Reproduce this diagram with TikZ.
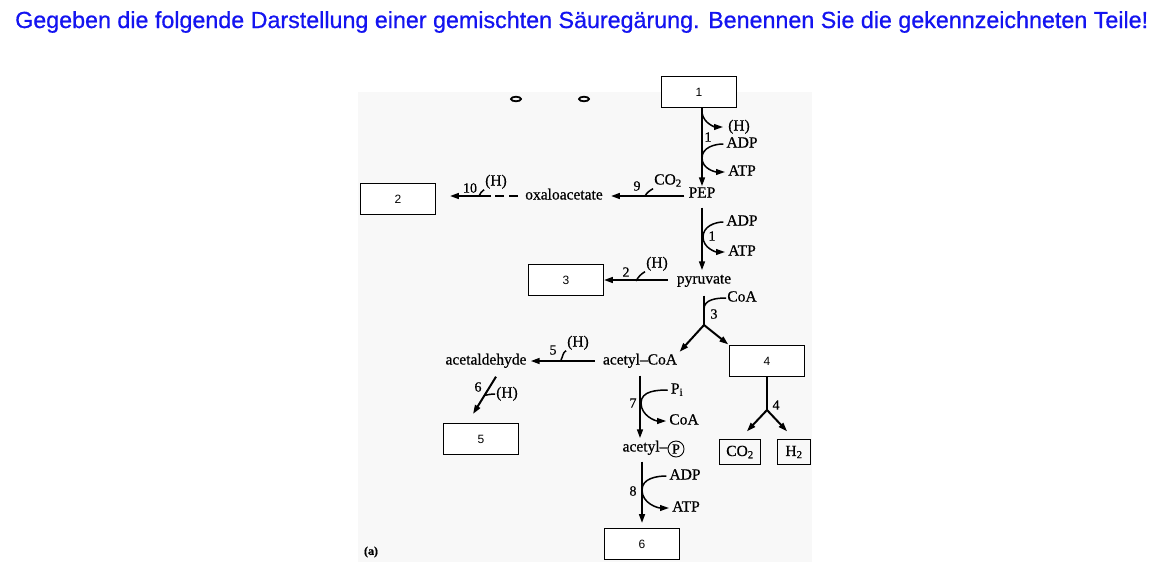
\documentclass[tikz,border=0pt]{standalone}
\usepackage{fontspec}
\setmainfont{Liberation Serif}[FakeBold=0.6]
\newfontfamily\boxfont{Liberation Sans}
\newfontfamily\taskfont{Liberation Sans}[FakeBold=0.7]
\usepackage{graphicx}
\usetikzlibrary{arrows.meta,positioning,calc}
\definecolor{taskblue}{HTML}{1414F0}
\definecolor{scan}{HTML}{F8F8F8}
\tikzset{thick/.style={line width=1.5pt},
  very thick/.style={line width=2pt}}

\begin{document}
\begin{tikzpicture}[x=1pt,y=-1pt,>={Triangle[length=9pt,width=5.8pt]},
  every node/.style={font=\fontsize{15.5}{17}\selectfont,inner sep=1pt},
  mol/.style={text height=10pt,text depth=3pt},
  blank/.style={draw,line width=0.8pt,fill=white,minimum width=75pt,
    minimum height=31pt,font=\boxfont\fontsize{12}{14}\selectfont},
  prod/.style={draw,line width=1.7pt,minimum height=25pt,inner sep=2pt},
  num/.style={font=\fontsize{14}{16}\selectfont},
  ed/.style={very thick},
  sd/.style={thick}]
\useasboundingbox (0,0) rectangle (1166,584);
\fill[scan] (358,92) rectangle (812,562);
\node[anchor=west,text=taskblue,inner sep=0pt] (task) at (15,22)
  {\resizebox{1133pt}{!}{\taskfont Gegeben die folgende Darstellung einer gemischten Säuregärung. Benennen Sie die gekennzeichneten Teile!}};
% the blanks to fill in
\node[blank] (b1) at (699,92) {1};
\node[blank] (b2) at (398,199) {2};
\node[blank] (b3) at (566,280) {3};
\node[blank] (b4) at (767,361) {4};
\node[blank] (b5) at (481,439) {5};
\node[blank] (b6) at (642,544) {6};
% metabolites
\node[mol] (pep) at (702,194) {PEP};
\node[mol] (oxa) at (564,196) {oxaloacetate};
\node[mol] (pyr) at (704,280) {pyruvate};
\node[mol] (acoa) at (640,361) {acetyl--CoA};
\node[mol] (ald) at (486,361) {acetaldehyde};
\node[mol] (ap) at (645,448) {acetyl--};
\node[circle,draw,line width=0.9pt,inner sep=0pt,minimum size=16pt,
  font=\fontsize{14}{15}\selectfont,right=-1pt of ap,yshift=-1pt] (apc) {P};
\node[prod,minimum width=41pt] (co2) at (740,452) {CO\textsubscript{2}};
\node[prod,minimum width=33pt] (h2) at (794,452) {H\textsubscript{2}};
% main arrows
\coordinate (f3) at (704,325);
\coordinate (f4) at (767,410);
\draw[ed,->] (b1.south -| pep.north) -- (pep.north);
\draw[ed,->,shorten <=6pt,shorten >=2pt] (pep.south) -- (pyr.north -| pep.south);
\draw[ed,shorten <=8pt] (pyr.south -| f3) -- (f3);
\draw[ed,->,shorten >=2pt] (f3) -- (acoa.north east);
\draw[ed,->,shorten >=1pt] (f3) -- (b4.north west);
\draw[ed,->,shorten <=7pt,shorten >=2pt] (acoa.south) -- (ap.north -| acoa.south);
\draw[ed,->,shorten <=6pt,shorten >=5pt] (ap.south -| b6.north) -- (b6.north);
\draw[ed] (b4.south) -- (f4);
\draw[ed,->,shorten >=10pt] (f4) -- (co2.north);
\draw[ed,->,shorten >=10pt] (f4) -- (h2.north);
\draw[ed,->,shorten <=3pt,shorten >=7pt] (pep.west |- oxa.east) -- (oxa.east);
\coordinate (d10) at (491,196);
\draw[ed,dash pattern=on 9pt off 5pt,shorten <=6pt] (oxa.west) -- (d10);
\draw[ed,->,shorten >=14pt] (d10) -- (b2.east |- d10);
\draw[ed,->,shorten <=8pt] (pyr.west) -- (b3.east);
\draw[ed,->,shorten <=7pt,shorten >=3pt] (acoa.west) -- (ald.east);
\coordinate (a6) at ($(ald.south)+(10,8)$);
\coordinate (e6) at (473,414);
\draw[ed,->] (a6) -- (e6);
% step 1 (top)
\node[mol] (h1) at (739,127) {(H)};
\node[mol] (adp1) at (742,144) {ADP};
\node[mol] (atp1) at (742,172) {ATP};
\node[num] (n1a) at (708,137) {1};
\coordinate (t1h) at (702,113);
\coordinate (t1) at (702,158);
\draw[sd,->,shorten >=4pt] (t1h) to[out=-80,in=180] (h1.west);
\draw[sd,->,shorten <=2pt,shorten >=2pt] (adp1.west) to[out=180,in=90] (t1)
  to[out=-90,in=180] (atp1.west);
% step 1 (second)
\node[mol] (adp2) at (742,222) {ADP};
\node[mol] (atp2) at (742,252) {ATP};
\node[num] (n1b) at (712,236) {1};
\coordinate (t2) at (703,237);
\draw[sd,->,shorten <=2pt,shorten >=2pt] (adp2.west) to[out=180,in=90] (t2)
  to[out=-90,in=180] (atp2.west);
% step 3
\node[mol] (coa3) at (742,298) {CoA};
\node[num] (n3) at (714,314) {3};
\coordinate (t3) at (704,309);
\draw[sd] (t3) to[out=90,in=180] (coa3.west);
% step 4
\node[num] (n4) at (776,405) {4};
% step 7
\node[mol] (pi7) at (677,390) {P\textsubscript{i}};
\node[mol] (coa7) at (684,421) {CoA};
\node[num] (n7) at (633,403) {7};
\coordinate (t7) at (641,403);
\draw[sd,->,shorten <=2pt,shorten >=2pt] (pi7.west) to[out=180,in=90] (t7)
  to[out=-90,in=180] (coa7.west);
% step 8
\node[mol] (adp8) at (685,476) {ADP};
\node[mol] (atp8) at (686,508) {ATP};
\node[num] (n8) at (633,491) {8};
\coordinate (t8) at (642,490);
\draw[sd,->,shorten <=2pt,shorten >=2pt] (adp8.west) to[out=180,in=90] (t8)
  to[out=-90,in=180] (atp8.west);
% step 9
\node[mol] (co2a) at (668,181) {CO\textsubscript{2}};
\node[num] (n9) at (637,186) {9};
\coordinate (k9) at (645,196);
\draw[sd] (k9) to[out=60,in=210] (co2a.south west);
% step 10
\node[mol] (h10) at (496,182) {(H)};
\node[num] (n10) at (470,188) {10};
\coordinate (k10) at (479,196);
\draw[sd] (k10) to[out=60,in=210] (h10.south west);
% step 2
\node[mol] (h2a) at (657,264) {(H)};
\node[num] (n2) at (626,272) {2};
\coordinate (k2) at (636,281);
\draw[sd] (k2) to[out=60,in=210] (h2a.south west);
% step 5
\node[mol] (h5) at (578,343) {(H)};
\node[num] (n5) at (553,350) {5};
\coordinate (k5) at (561,360);
\draw[sd] (k5) to[out=60,in=210] (h5.south west);
% step 6
\node[mol] (h6) at (507,394) {(H)};
\node[num] (n6) at (478,387) {6};
\coordinate (k6) at ($(a6)!0.5!(e6)$);
\draw[sd] (k6) to[out=10,in=180] (h6.west);
% specks and figure tag
\draw[line width=1.8pt] (516,99) ellipse (5 and 2.3);
\draw[line width=1.8pt] (584,99) ellipse (5 and 2.3);
\node[font=\bfseries\fontsize{12}{14}\selectfont] (tag) at (371,552) {(a)};
\end{tikzpicture}
\end{document}
